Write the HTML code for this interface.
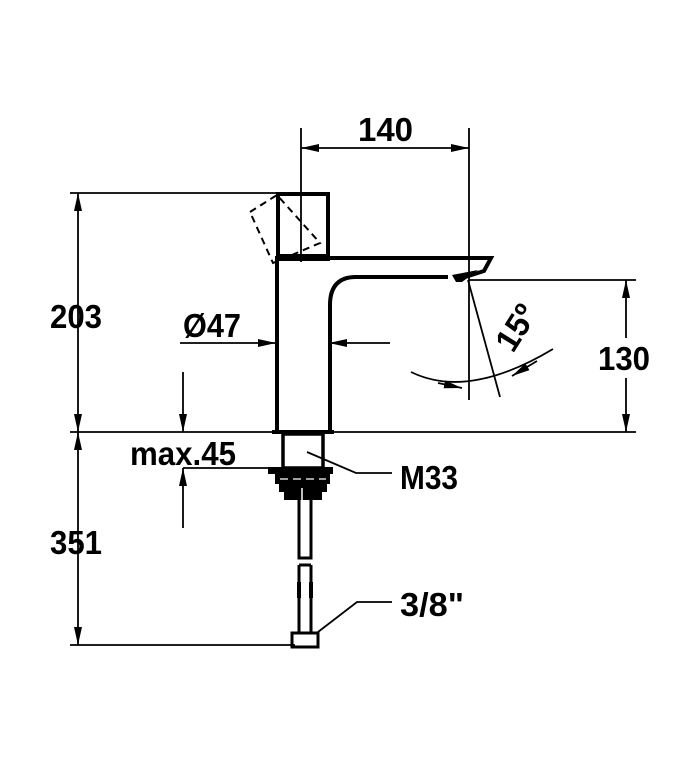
<!DOCTYPE html>
<html><head><meta charset="utf-8"><style>html,body{margin:0;padding:0;background:#fff}svg{display:block}text{font-family:"Liberation Sans",sans-serif;font-weight:bold;font-size:33px;fill:#000}</style></head><body>
<svg width="700" height="763" viewBox="0 0 700 763" xmlns="http://www.w3.org/2000/svg">
<defs>
<marker id="a" viewBox="0 0 18 8" refX="18" refY="4" markerWidth="18" markerHeight="8" markerUnits="userSpaceOnUse" orient="auto"><path d="M0,0L18,4L0,8z" fill="#000"/></marker>
</defs>
<g stroke="#000" fill="none" stroke-width="1.8">
<line x1="301" y1="128" x2="301" y2="262"/>
<line x1="469" y1="128" x2="469" y2="400"/>
<line x1="70" y1="193" x2="280" y2="193"/>
<line x1="70" y1="432" x2="636" y2="432"/>
<line x1="469" y1="280" x2="636" y2="280"/>
<line x1="70" y1="645" x2="295" y2="645"/>
<line x1="385" y1="148" x2="469" y2="148" marker-end="url(#a)"/>
<line x1="385" y1="148" x2="301" y2="148" marker-end="url(#a)"/>
<line x1="78" y1="312" x2="78" y2="193" marker-end="url(#a)"/>
<line x1="78" y1="312" x2="78" y2="432" marker-end="url(#a)"/>
<line x1="78" y1="540" x2="78" y2="432" marker-end="url(#a)"/>
<line x1="78" y1="540" x2="78" y2="645" marker-end="url(#a)"/>
<line x1="626" y1="338" x2="626" y2="280" marker-end="url(#a)"/>
<line x1="626" y1="378" x2="626" y2="432" marker-end="url(#a)"/>
<line x1="180" y1="343" x2="276" y2="343" marker-end="url(#a)"/>
<line x1="390" y1="343" x2="329" y2="343" marker-end="url(#a)"/>
<line x1="183" y1="372" x2="183" y2="432" marker-end="url(#a)"/>
<line x1="183" y1="528" x2="183" y2="468" marker-end="url(#a)"/>
<line x1="183" y1="468" x2="272" y2="468"/>
<line x1="468" y1="280" x2="500" y2="397"/>
<path d="M411,372 Q468,400 553,349"/>
<line x1="438" y1="383" x2="462" y2="388" marker-end="url(#a)"/>
<line x1="537" y1="361" x2="512" y2="376" marker-end="url(#a)"/>
<polyline points="307,452 356,473 392,473"/>
<polyline points="318,632 357,602 392,602"/>
</g>
<g stroke="#000" fill="none" stroke-width="4">
<rect x="278" y="194" width="50" height="62"/>
<path d="M277,256 V432"/>
<path d="M277,258 H491 L484,271 L462,278"/>
<path d="M448,277 H356 Q330,277 330,305 V432"/>
<path d="M272,432 H334"/>
<rect x="283" y="434" width="40" height="34" stroke-width="3.5"/>
</g>
<path d="M276,256 H330 V261 H276z" fill="#000"/>
<path d="M452,275 L478,270 L462,282 L456,282z" fill="#000"/>
<polygon points="250,212 277,195 320,243 273,263" fill="none" stroke="#000" stroke-width="2" stroke-dasharray="7,5"/>
<rect x="268" y="467" width="65" height="7" fill="#000"/>
<path d="M275,474 H330 V484 H327 V492 H322 V500 H284 V492 H279 V484 H275z" fill="#000"/>
<line x1="280" y1="479" x2="326" y2="479" stroke="#fff" stroke-width="1.2" stroke-dasharray="8,5"/>
<line x1="302" y1="488" x2="302" y2="500" stroke="#fff" stroke-width="1.5"/>
<g stroke="#000" stroke-width="3" fill="none">
<path d="M299,500 V558 H311 V500"/>
<path d="M299,565 V633 M311,565 V633 M299,565 H311"/>
<rect x="292" y="633" width="26" height="14"/>
</g>
<rect x="297" y="582" width="4" height="16" fill="#000"/><rect x="309" y="582" width="4" height="16" fill="#000"/>
<text x="358" y="141" textLength="55" lengthAdjust="spacingAndGlyphs">140</text>
<text x="50" y="328" textLength="52" lengthAdjust="spacingAndGlyphs">203</text>
<text x="50" y="554" textLength="52" lengthAdjust="spacingAndGlyphs">351</text>
<text x="598" y="370" textLength="52" lengthAdjust="spacingAndGlyphs">130</text>
<text x="183" y="337" textLength="58" lengthAdjust="spacingAndGlyphs">Ø47</text>
<text x="130" y="465" font-size="31" textLength="106" lengthAdjust="spacingAndGlyphs">max.45</text>
<text x="400" y="489" textLength="58" lengthAdjust="spacingAndGlyphs">M33</text>
<text x="400" y="616" textLength="64" lengthAdjust="spacingAndGlyphs">3/8"</text>
<text x="0" y="0" transform="translate(513,354) rotate(-58)" textLength="48" lengthAdjust="spacingAndGlyphs">15º</text>
</svg>
</body></html>
